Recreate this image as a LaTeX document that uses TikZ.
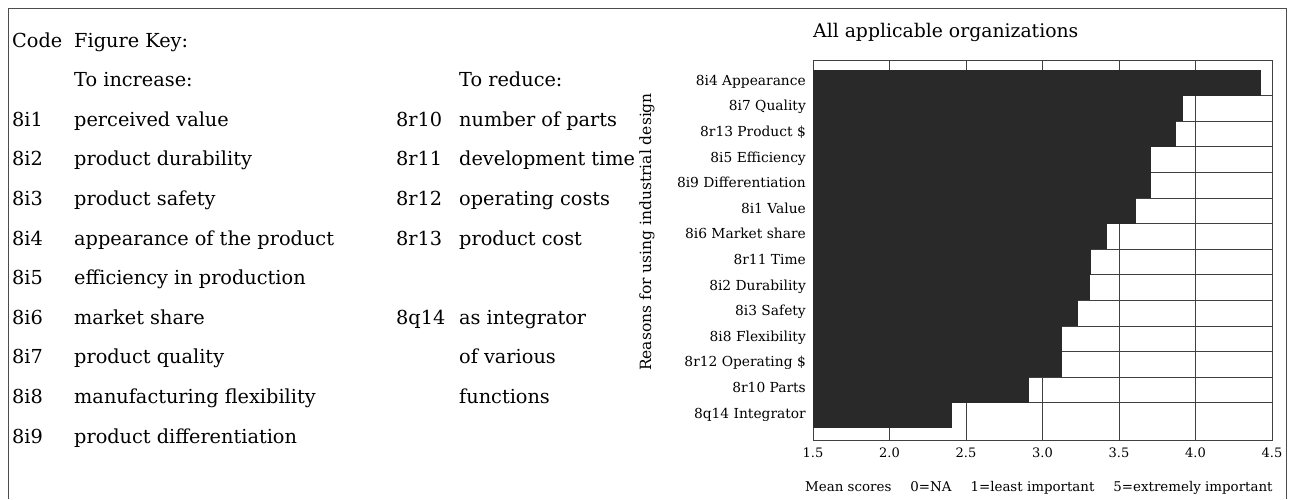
\documentclass[tikz,border=0pt]{standalone}
\usepackage{fontspec}
\setmainfont{DejaVu Serif}
\usetikzlibrary{positioning}

\begin{document}
\begin{tikzpicture}[x=1pt, y=-1pt,
	keytext/.style={anchor=base west, inner sep=0pt, font=\fontsize{19.3}{21}\selectfont},
	barlabel/.style={anchor=base east, inner sep=0pt, font=\fontsize{13.8}{15}\selectfont},
	ticklabel/.style={anchor=base, inner sep=0pt, font=\fontsize{13}{15}\selectfont},
	gridline/.style={line width=0.7pt, black!75},
	barfill/.style={fill=black!84, draw=none}]
	\useasboundingbox (0,0) rectangle (1291,499);
	\draw[line width=1pt, black!70] (8,499) -- (8,8) -- (1286,8) -- (1286,499);

	\node[keytext] (code) at (12,47) {Code};
	\node[keytext] (fkey) at (74,47) {Figure Key:};
	\node[keytext] (inc) at (74,86.6) {To increase:};
	\foreach \c/\d [count=\k] in {8i1/perceived value, 8i2/product durability,
		8i3/product safety, 8i4/appearance of the product,
		8i5/efficiency in production, 8i6/market share, 8i7/product quality,
		8i8/manufacturing flexibility, 8i9/product differentiation} {
		\node[keytext] (ic\k) at (12,{47+39.6*(\k+1)}) {\c};
		\node[keytext] (id\k) at (74,{47+39.6*(\k+1)}) {\d};
	}
	\node[keytext] (red) at (459,86.6) {To reduce:};
	\foreach \c/\d/\k in {8r10/number of parts/2, 8r11/development time/3,
		8r12/operating costs/4, 8r13/product cost/5, 8q14/as integrator/7} {
		\node[keytext] (rc\k) at (396,{47+39.6*\k}) {\c};
		\node[keytext] (rd\k) at (459,{47+39.6*\k}) {\d};
	}
	\node[keytext] (rd8) at (459,{47+39.6*8}) {of various};
	\node[keytext] (rd9) at (459,{47+39.6*9}) {functions};

	\node[anchor=base west, inner sep=0pt, font=\fontsize{18.8}{20}\selectfont] (title) at (813,37) {All applicable organizations};
	\node[rotate=90, inner sep=0pt, font=\fontsize{15.5}{17}\selectfont] (ylab) at (647,232) {Reasons for using industrial design};

	\foreach \k in {1,...,13}
		\draw[gridline] (813,{70+25.6*\k}) -- (1272,{70+25.6*\k});
	\foreach \t in {2.0,2.5,3.0,3.5,4.0}
		\draw[gridline] ({813+(\t-1.5)*153},60) -- ({813+(\t-1.5)*153},440);
	\draw[gridline] (813,60) rectangle (1272,440);

	\foreach \v/\n [count=\i] in {4.43/8i4 Appearance, 3.92/8i7 Quality,
		3.87/8r13 Product \$, 3.71/8i5 Efficiency, 3.71/8i9 Differentiation,
		3.61/8i1 Value, 3.42/8i6 Market share, 3.32/8r11 Time,
		3.31/8i2 Durability, 3.23/8i3 Safety, 3.13/8i8 Flexibility,
		3.13/8r12 Operating \$, 2.91/8r10 Parts, 2.41/8q14 Integrator} {
		\fill[barfill] (813,{70+25.6*(\i-1)}) rectangle ({813+(\v-1.5)*153},{70+25.6*\i});
		\node[barlabel] (lab\i) at (806,{70+25.6*(\i-0.5)+2.5}) {\n};
	}

	\foreach \t [count=\j] in {1.5,2.0,2.5,3.0,3.5,4.0,4.5} {
		\draw[gridline] ({813+(\t-1.5)*153},60) -- ({813+(\t-1.5)*153},65);
		\draw[gridline] ({813+(\t-1.5)*153},440) -- ({813+(\t-1.5)*153},434);
		\node[ticklabel] (tick\j) at ({813+(\t-1.5)*153},457) {\t};
	}
	\node[anchor=base west, inner sep=0pt, font=\fontsize{13.4}{15}\selectfont] (note) at (805,491)
		{Mean scores\hspace{19pt}0=NA\hspace{19pt}1=least important\hspace{19pt}5=extremely important};
\end{tikzpicture}
\end{document}
